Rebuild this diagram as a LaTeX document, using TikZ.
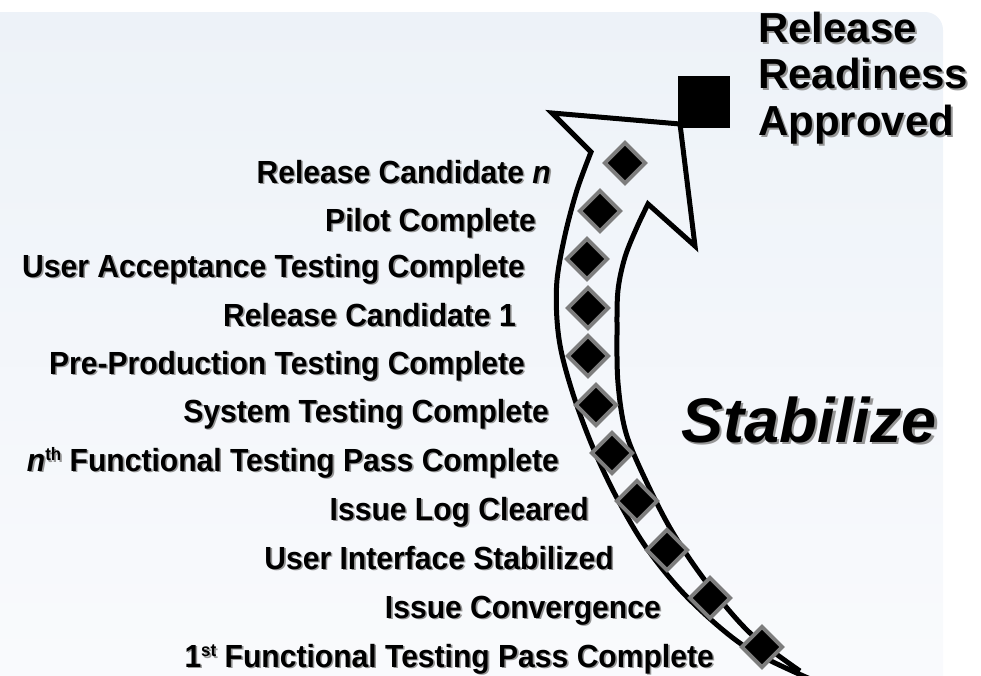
\documentclass[tikz,border=0pt]{standalone}
\usepackage{fontspec}
\newfontfamily\lblfont[FakeStretch=0.94]{Liberation Sans}
\newfontfamily\bigfont{Liberation Sans}
\definecolor{shadowgray}{RGB}{150,150,150}
\definecolor{bgtop}{RGB}{237,242,248}
\definecolor{bgbot}{RGB}{250,251,253}
\definecolor{dgray}{RGB}{125,125,125}
% #1 shadow offset, #2 name, #3 position, #4 anchor, #5 font, #6 text
\newcommand\shtext[6][1.6]{%
  \node[anchor=#4, text=shadowgray, inner sep=0pt, xshift=#1pt, yshift=-#1pt] at (#3) {#5#6};
  \node[anchor=#4, inner sep=0pt] (#2) at (#3) {#5#6};}
\newcommand\lblf{\lblfont\bfseries\fontsize{32}{38}\selectfont}
\newcommand\supr[1]{\raisebox{0.33em}{\fontsize{18}{18}\selectfont #1}}
\begin{document}
\begin{tikzpicture}[x=1pt,y=-1pt,
  arrowline/.style={line width=5pt, line join=miter, miter limit=10, draw=black},
  milestone/.style={draw=dgray, fill=black, line width=3.8pt, rotate=45,
    minimum size=28.5pt, inner sep=0pt, line join=miter}]
\useasboundingbox (0,0) rectangle (981,675);
% background panel
\path[top color=bgtop, bottom color=bgbot, rounded corners=18pt] (-40,12) rectangle (943,720);
% arrow outline
\draw[arrowline]
  plot[smooth, tension=0.55] coordinates {(815,681) (747,648) (690,600) (648,550) (618,500) (594,450) (575,400) (562,355) (557,320) (557,280) (565,235) (577,190) (591,152)}
  -- (552,113) -- (680,124) -- (695,246)
  -- plot[smooth, tension=0.55] coordinates {(648,204) (637,227) (625,257) (618,290) (617,330) (618,383) (626,433) (647,483) (673,533) (707,583) (750,633) (800,671)};
% final milestone square
\node[fill=black, minimum size=52pt, inner sep=0pt] (rra) at (704,102) {};
% milestone diamonds
\node[milestone] (d1) at (625,163) {};
\node[milestone] (d2) at (600,211) {};
\node[milestone] (d3) at (587,259) {};
\node[milestone] (d4) at (588,308) {};
\node[milestone] (d5) at (588,356) {};
\node[milestone] (d6) at (596,405) {};
\node[milestone] (d7) at (612,453) {};
\node[milestone] (d8) at (637,501) {};
\node[milestone] (d9) at (667,550) {};
\node[milestone] (d10) at (710,598) {};
\node[milestone] (d11) at (762,647) {};
% labels
\shtext{l1}{551,183}{base east}{\lblf}{Release Candidate \textit{n}}
\shtext{l2}{536,231}{base east}{\lblf}{Pilot Complete}
\shtext{l3}{525,277}{base east}{\lblf}{User Acceptance Testing Complete}
\shtext{l4}{516,326}{base east}{\lblf}{Release Candidate 1}
\shtext{l5}{525,374}{base east}{\lblf}{Pre-Production Testing Complete}
\shtext{l6}{549,422}{base east}{\lblf}{System Testing Complete}
\shtext{l7}{559,471}{base east}{\lblf}{\textit{n}\supr{th} Functional Testing Pass Complete}
\shtext{l8}{589,520}{base east}{\lblf}{Issue Log Cleared}
\shtext{l9}{614,569}{base east}{\lblf}{User Interface Stabilized}
\shtext{l10}{661,618}{base east}{\lblf}{Issue Convergence}
\shtext{l11}{714,667}{base east}{\lblf}{1\supr{st} Functional Testing Pass Complete}
% release readiness
\shtext[2]{r1}{758,42}{base west}{\bigfont\bfseries\fontsize{42}{46}\selectfont}{Release}
\shtext[2]{r2}{758,88}{base west}{\bigfont\bfseries\fontsize{42}{46}\selectfont}{Readiness}
\shtext[2]{r3}{758,135}{base west}{\bigfont\bfseries\fontsize{42}{46}\selectfont}{Approved}
% phase name
\shtext[2.5]{stab}{681,442}{base west}{\bigfont\bfseries\itshape\fontsize{63}{70}\selectfont}{Stabilize}
\end{tikzpicture}
\end{document}
